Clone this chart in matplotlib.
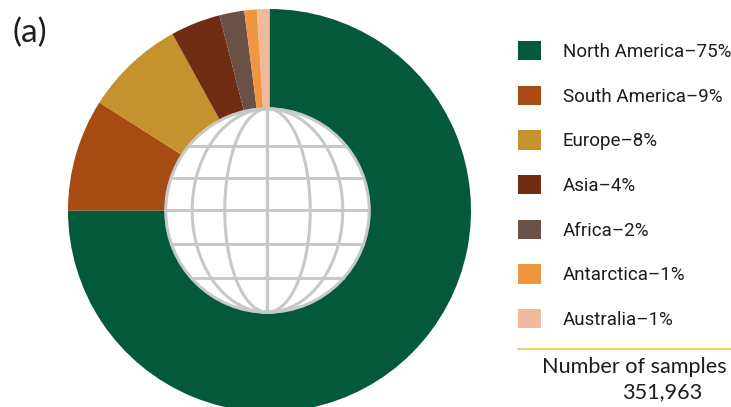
#!/usr/bin/env python3
import numpy as np
import matplotlib as mpl
mpl.use('Agg')
import matplotlib.pyplot as plt
from matplotlib.patches import Circle

##### data
regions = ['North America', 'South America', 'Europe', 'Asia', 'Africa', 'Antarctica', 'Australia']
shares = [75, 9, 8, 4, 2, 1, 1]
colors = ['#03593a', '#a64b12', '#c6922e', '#6f2c12', '#6b5045', '#ee9640', '#f1b99c']
panel_label = '(a)'
samples_title = 'Number of samples'
samples_count = '351,963'

W, H = 731, 407
fig = plt.figure(figsize=(W/100, H/100), dpi=100)

# donut axes, 1 data unit = 201.5 px
cx, cy, r = 269.5, 210.5, 201.5
ax = fig.add_axes([(cx-r)/W, 1-(cy+r)/H, 2*r/W, 2*r/H])
wedges, _ = ax.pie(shares, colors=colors, startangle=90, counterclock=False, radius=1.0,
                   wedgeprops=dict(width=0.55, linewidth=0))
ax.set_xlim(-1, 1)
ax.set_ylim(-1, 1)
ax.axis('off')

##### globe in the middle
gx, gr = -0.01, 0.505
grey = '#c6c9ca'
ax.add_patch(Circle((gx, 0), gr, fc='white', ec=grey, lw=2.2, zorder=3))
t = np.linspace(0, 2*np.pi, 200)
for k in [0.42, 0.74]:
    ax.plot(gx + k*gr*np.cos(t), gr*np.sin(t), color=grey, lw=2.2, zorder=4)
ax.plot([gx, gx], [-gr, gr], color=grey, lw=2.4, zorder=4, solid_capstyle='butt')
for k in [-0.66, -0.33, 0, 0.32, 0.63]:
    half = gr*np.sqrt(1-k**2)
    ax.plot([gx-half, gx+half], [k*gr, k*gr], color=grey, lw=2.2, zorder=4, solid_capstyle='butt')

##### legend
labels = ['%s–%d%%' % (n, s) for n, s in zip(regions, shares)]
leg = fig.legend(wedges, labels, loc='upper left', bbox_to_anchor=(518/W, 1-41/H),
                 bbox_transform=fig.transFigure, frameon=False,
                 prop=dict(family='Roboto', size=13.5), handlelength=1.2, handleheight=1.2,
                 handletextpad=1.2, labelspacing=1.32, borderpad=0, borderaxespad=0)
for txt in leg.get_texts():
    txt.set_color('#1d1d1b')

fig.add_artist(plt.Line2D([518/W, 1], [1-349/H, 1-349/H], color='#f7c95c', lw=1.3))
fig.text(634/W, 1-367/H, samples_title, ha='center', va='center', fontsize=15.6,
         family='Lato', color='#1d1d1b')
fig.text(662/W, 1-392/H, samples_count, ha='center', va='center', fontsize=15.6,
         family='Lato', color='#1d1d1b')
fig.text(30/W, 1-33/H, panel_label, ha='center', va='center', fontsize=24,
         family='Lato', color='#1d1d1b')

plt.savefig('out.png', dpi=100)
plt.close()
